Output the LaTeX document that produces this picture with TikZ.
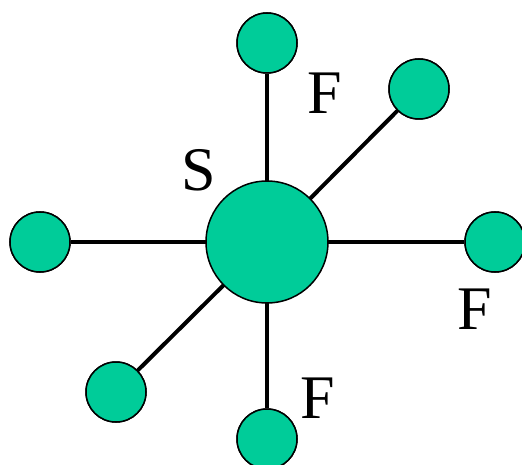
\documentclass[tikz,border=0pt]{standalone}
\usepackage{fontspec}
\setmainfont{Liberation Serif}
\definecolor{nodegreen}{HTML}{00CC99}
\begin{document}
\begin{tikzpicture}[x=1pt,y=1pt,
  leaf/.style={circle,draw=black,line width=1.5pt,fill=nodegreen,minimum size=60pt,inner sep=0pt},
  hub/.style={circle,draw=black,line width=1.5pt,fill=nodegreen,minimum size=122pt,inner sep=0pt},
  edge/.style={line width=4pt,black},
  lbl/.style={font=\fontsize{62}{62}\selectfont,inner sep=0pt}]
\useasboundingbox (0,0) rectangle (522,464);
\begin{scope}
\clip (0,0) rectangle (522,464);
\coordinate (c) at (267,222);
\node[leaf] (t) at (267,421) {};
\node[leaf] (tr) at (419,375) {};
\node[leaf] (r) at (495,222) {};
\node[leaf] (b) at (267,25) {};
\node[leaf] (l) at (40,222) {};
\node[leaf] (bl) at (116,72) {};
\draw[edge] (c) -- (t);
\draw[edge] (c) -- (tr);
\draw[edge] (c) -- (r);
\draw[edge] (c) -- (b);
\draw[edge] (c) -- (l);
\draw[edge] (c) -- (bl);
\node[hub] (s) at (c) {};
\node[leaf] at (t) {};
\node[leaf] at (tr) {};
\node[leaf] at (r) {};
\node[leaf] at (b) {};
\node[leaf] at (l) {};
\node[leaf] at (bl) {};
\end{scope}
\node[lbl] (ls) at (199,294) {S};
\node[lbl] (lf1) at (325,371) {F};
\node[lbl] (lf2) at (475,155) {F};
\node[lbl] (lf3) at (318,66) {F};
\end{tikzpicture}
\end{document}
